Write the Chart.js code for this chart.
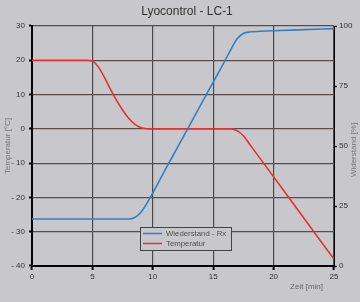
<!DOCTYPE html>
<html>
<head>
<meta charset="utf-8">
<script src="https://cdn.jsdelivr.net/npm/chart.js@4/dist/chart.umd.min.js"></script>
<style>
html,body{margin:0;padding:0;background:#c8c8cc;}
#wrap{width:360px;height:302px;position:relative;}
</style>
</head>
<body>
<div id="wrap"><canvas id="c" width="360" height="302"></canvas></div>
<script>
const chartTitle = 'Lyocontrol - LC-1';
const xTitle = 'Zeit [min]';
const yLeftTitle = 'Temperatur [°C]';
const yRightTitle = 'Widerstand [%]';
const seriesNames = ['Wiederstand - Rx', 'Temperatur'];

const xTicks = [0, 5, 10, 15, 20, 25];
const leftTicks = [30, 20, 10, 0, -10, -20, -30, -40];
const rightTicks = [100, 75, 50, 25, 0];

const tempTime = [0, 4.5, 5, 5.5, 6, 6.5, 7, 7.5, 8, 8.5, 9, 9.5, 10, 16.5, 17, 17.5, 18, 19, 20, 21, 22, 23, 24, 25];
const tempValues = [20, 20, 19.8, 18, 15, 11.5, 8.3, 5.5, 3.1, 1.4, 0.4, 0.05, 0, 0, -0.6, -2, -4.4, -9.2, -14, -18.8, -23.6, -28.4, -33.2, -38];

const resTime = [0, 8, 8.5, 9, 9.5, 10, 11, 12, 13, 14, 15, 16, 16.5, 17, 17.5, 18, 20, 22, 25];
const resValues = [19.6, 19.6, 20.2, 22.3, 26, 30.5, 39.8, 49, 58.2, 67.4, 76.6, 85.8, 90.6, 94.8, 96.9, 97.5, 98, 98.4, 98.9];

const BG = '#c8c8cc';
const FONT = "'Liberation Sans', Arial, sans-serif";

const overlay = {
  id: 'overlay',
  beforeDraw(chart) {
    const ctx = chart.ctx;
    ctx.save();
    ctx.fillStyle = BG;
    ctx.fillRect(0, 0, chart.width, chart.height);
    ctx.restore();
  },
  afterDraw(chart) {
    const ctx = chart.ctx;
    const area = chart.chartArea;
    ctx.save();
    // title
    ctx.fillStyle = '#333';
    ctx.font = '12px ' + FONT;
    ctx.textAlign = 'center';
    ctx.textBaseline = 'middle';
    ctx.fillText(chartTitle, 187, 12);
    // x title
    ctx.fillStyle = '#6a6a6a';
    ctx.font = '8px ' + FONT;
    ctx.textAlign = 'right';
    ctx.fillText(xTitle, 323, 287);
    // right axis title (reads bottom to top)
    ctx.save();
    ctx.translate(354, (area.top + area.bottom) / 2 + 4);
    ctx.rotate(-Math.PI / 2);
    ctx.textAlign = 'center';
    ctx.textBaseline = 'middle';
    ctx.fillStyle = '#777';
    ctx.font = '8px ' + FONT;
    ctx.fillText(yRightTitle, 0, 0);
    ctx.restore();
    // legend box
    const bx = 140.5, by = 227.5, bw = 91, bh = 23;
    ctx.fillStyle = BG;
    ctx.fillRect(bx, by, bw, bh);
    ctx.strokeStyle = '#444';
    ctx.lineWidth = 1;
    ctx.strokeRect(bx, by, bw, bh);
    const ds = chart.data.datasets;
    const rows = [233.5, 243.5];
    ds.forEach((d, i) => {
      ctx.strokeStyle = d.borderColor;
      ctx.lineWidth = 1.5;
      ctx.beginPath();
      ctx.moveTo(143, rows[i]);
      ctx.lineTo(162, rows[i]);
      ctx.stroke();
      ctx.fillStyle = '#505050';
      ctx.font = '7.8px ' + FONT;
      ctx.textAlign = 'left';
      ctx.textBaseline = 'middle';
      ctx.fillText(d.label, 166, rows[i]);
    });
    ctx.restore();
  }
};

new Chart(document.getElementById('c'), {
  type: 'line',
  data: {
    datasets: [
      {
        label: seriesNames[0],
        data: resTime.map((t, i) => ({x: t, y: resValues[i]})),
        yAxisID: 'y2',
        borderColor: '#2f80c8',
        borderWidth: 1.6,
        pointRadius: 0,
        cubicInterpolationMode: 'monotone',
        fill: false
      },
      {
        label: seriesNames[1],
        data: tempTime.map((t, i) => ({x: t, y: tempValues[i]})),
        yAxisID: 'y',
        borderColor: '#e5322c',
        borderWidth: 1.6,
        pointRadius: 0,
        cubicInterpolationMode: 'monotone',
        fill: false
      }
    ]
  },
  options: {
    responsive: false,
    animation: false,
    layout: {padding: {top: 26, left: 0, right: 0, bottom: 0}},
    plugins: {legend: {display: false}, title: {display: false}, tooltip: {enabled: false}},
    scales: {
      x: {
        type: 'linear', min: 0, max: 25,
        afterBuildTicks(s) { s.ticks = xTicks.map(v => ({value: v})); },
        afterFit(s) { s.height = 36; },
        border: {color: '#000', width: 2},
        grid: {color: '#4a4a4a', lineWidth: 1.2, tickLength: 4, tickColor: '#000', tickWidth: 2},
        ticks: {color: '#333', font: {family: FONT, size: 8}, padding: 2, maxRotation: 0}
      },
      y: {
        position: 'left', min: -40, max: 30,
        afterBuildTicks(s) { s.ticks = leftTicks.map(v => ({value: v})); },
        afterFit(s) { s.width = 32; },
        border: {color: '#000', width: 2},
        grid: {color: '#574d4d', lineWidth: 1.2, tickLength: 3, tickColor: '#000', tickWidth: 2},
        ticks: {color: '#333', font: {family: FONT, size: 8}, padding: 4,
          callback: v => v < 0 ? '- ' + Math.abs(v) : String(v)},
        title: {display: true, text: yLeftTitle, color: '#777', font: {family: FONT, size: 8}, padding: 3}
      },
      y2: {
        position: 'right', min: 0, max: 100,
        afterBuildTicks(s) { s.ticks = rightTicks.map(v => ({value: v})); },
        afterFit(s) { s.width = 26; },
        border: {color: '#000', width: 1},
        grid: {drawOnChartArea: false, tickLength: 3, tickColor: '#000', tickWidth: 1.5},
        ticks: {color: '#333', font: {family: FONT, size: 8}, padding: 2}
      }
    }
  },
  plugins: [overlay]
});
</script>
</body>
</html>
